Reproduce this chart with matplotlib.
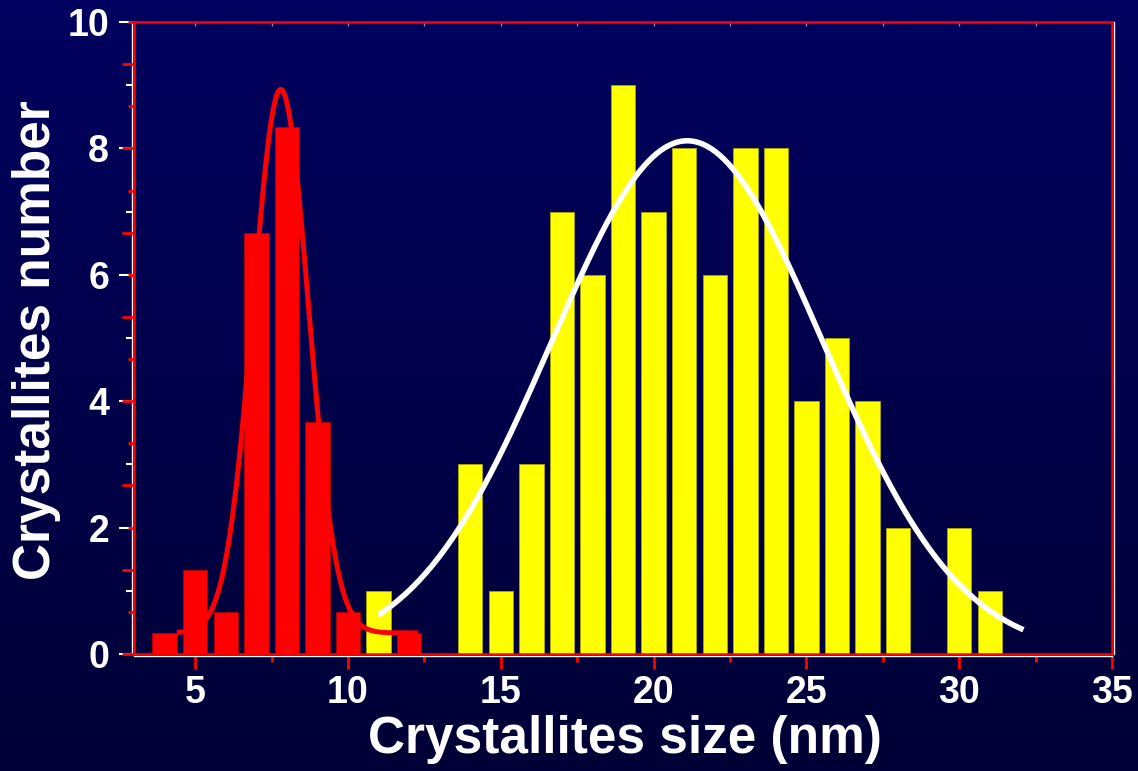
import numpy as np
import matplotlib
matplotlib.use("Agg")
import matplotlib.pyplot as plt
from matplotlib.colors import LinearSegmentedColormap
from matplotlib.ticker import MultipleLocator, NullFormatter

plt.rcParams['font.family'] = ['Liberation Sans', 'DejaVu Sans']
plt.rcParams['font.weight'] = 'bold'

# crystallite size bins (nm) and counts
red_size = [4, 5, 6, 7, 8, 9, 10, 12]
red_count = [1, 4, 2, 20, 25, 11, 2, 1]          # red axis, 0-30
yellow_size = [11, 14, 15, 16, 17, 18, 19, 20, 21, 22, 23, 24, 25, 26, 27, 28, 30, 31]
yellow_count = [1, 3, 1, 3, 7, 6, 9, 7, 8, 6, 8, 8, 4, 5, 4, 2, 2, 1]

# gaussian fit parameters
red_fit = dict(y0=1.0, A=25.8, xc=7.8, w=0.9, x_from=4.4, x_to=12.3)
white_fit = dict(y0=0.0, A=8.12, xc=21.1, w=4.45, x_from=11.0, x_to=32.1)


def gauss_curve(p):
    x = np.linspace(p['x_from'], p['x_to'], 300)
    y = p['y0'] + p['A'] * np.exp(-(x - p['xc']) ** 2 / (2 * p['w'] ** 2))
    return x, y


fig = plt.figure(figsize=(11.38, 7.71), dpi=100)

# dark blue gradient background
bg = fig.add_axes([0, 0, 1, 1], zorder=-10)
cmap = LinearSegmentedColormap.from_list('bg', ['#00005f', '#000036'])
bg.imshow(np.linspace(0, 1, 256).reshape(-1, 1), aspect='auto', cmap=cmap,
          extent=[0, 1, 0, 1])
bg.axis('off')

ax = fig.add_axes([0.1178, 0.1518, 0.8594, 0.8197])
ax.set_facecolor('none')
ax.set_xlim(3, 35)
ax.set_ylim(0, 10)

ax2 = ax.twinx()
ax2.set_ylim(0, 30)
ax2.set_facecolor('none')

ax.bar(yellow_size, yellow_count, width=0.8, color='#ffff00',
       edgecolor='#a8a800', linewidth=0.6)
ax2.bar(red_size, red_count, width=0.8, color='#ff0000',
        edgecolor='#b00000', linewidth=0.6)

xr, yr = gauss_curve(red_fit)
ax2.plot(xr, yr, color='#ff0000', lw=3.6, solid_capstyle='butt')
xw, yw = gauss_curve(white_fit)
ax.plot(xw, yw, color='white', lw=4, solid_capstyle='butt', zorder=5)

# white axis (yellow data)
ax.yaxis.set_major_locator(MultipleLocator(2))
ax.yaxis.set_minor_locator(MultipleLocator(1))
ax.xaxis.set_major_locator(MultipleLocator(5))
ax.xaxis.set_minor_locator(MultipleLocator(2.5))
ax.tick_params(axis='y', which='major', color='white', labelcolor='white',
               length=9.5, width=1.5, labelsize=27, pad=7)
ax.tick_params(axis='y', which='minor', color='white', length=4.5, width=1.5)
ax.tick_params(axis='x', which='major', color='red', labelcolor='white',
               length=9, width=2, labelsize=27, pad=5)
ax.tick_params(axis='x', which='minor', color='red', length=4, width=2)
for side in ['left', 'bottom', 'right']:
    ax.spines[side].set_color('white')
    ax.spines[side].set_linewidth(1)
    ax.spines[side].set_position(('outward', 1.5))
ax.spines['top'].set_visible(False)

# red axis (red data)
ax2.yaxis.set_ticks_position('left')
ax2.yaxis.set_major_locator(MultipleLocator(4))
ax2.yaxis.set_minor_locator(MultipleLocator(2))
ax2.yaxis.set_major_formatter(NullFormatter())
ax2.tick_params(axis='y', which='major', color='red', length=9, width=2,
                labelleft=False, labelright=False)
ax2.tick_params(axis='y', which='minor', color='red', length=4, width=2)
for side in ['left', 'bottom', 'right', 'top']:
    ax2.spines[side].set_color('red')
    ax2.spines[side].set_linewidth(1.8)

top = ax.secondary_xaxis('top')
top.xaxis.set_major_locator(MultipleLocator(2.5))
top.tick_params(direction='in', length=3, color='#8888aa', width=1,
                labeltop=False)
top.spines['top'].set_visible(False)

fig.text(625 / 1138, 1 - 740 / 771, 'Crystallites size (nm)', color='white',
         fontsize=37, fontweight='bold', ha='center', va='center')
fig.text(37 / 1138, 1 - 340 / 771, 'Crystallites number', color='white',
         fontsize=37, fontweight='bold', ha='center', va='center', rotation=90)

fig.savefig('out.png', dpi=100)
